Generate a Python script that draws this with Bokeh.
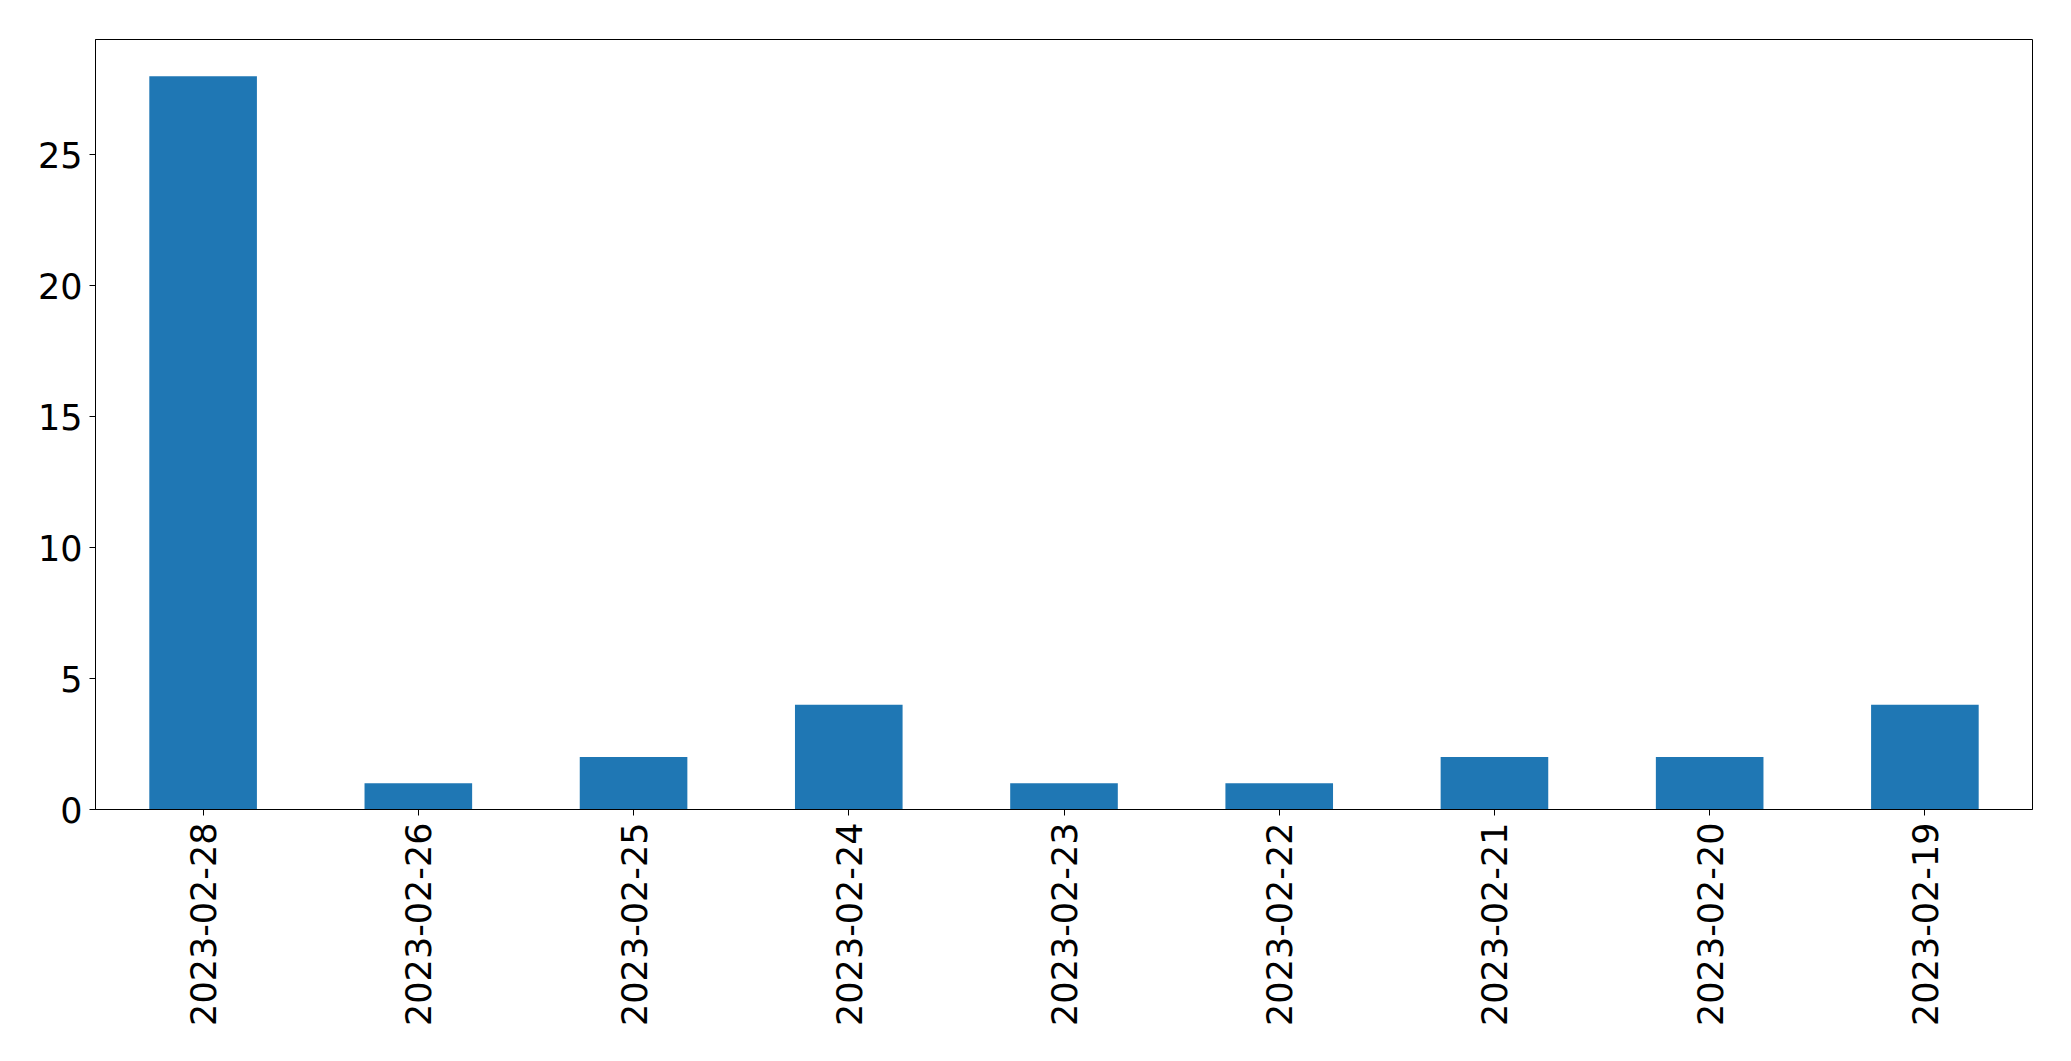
import math
from bokeh.plotting import figure
from bokeh.models import FixedTicker, Range1d, FactorRange, ColumnDataSource
from bokeh.embed import file_html
from bokeh.resources import INLINE

dates = ["2023-02-28", "2023-02-26", "2023-02-25", "2023-02-24", "2023-02-23",
         "2023-02-22", "2023-02-21", "2023-02-20", "2023-02-19"]
counts = [28, 1, 2, 4, 1, 1, 2, 2, 4]
y_ticks = [0, 5, 10, 15, 20, 25]

src = ColumnDataSource(dict(x=dates, top=counts))

p = figure(width=2055, height=1045, output_backend="svg", toolbar_location=None,
           x_range=FactorRange(factors=dates, range_padding=0),
           y_range=Range1d(0, 29.4),
           min_border_left=95, min_border_top=39, min_border_right=23, min_border_bottom=236)

p.vbar(x="x", top="top", bottom=0, width=0.5, source=src, color="#1f77b4", line_color=None)

p.xgrid.visible = False
p.ygrid.visible = False
p.outline_line_color = "black"
p.outline_line_width = 1
p.outline_line_alpha = 1

for ax in (p.xaxis[0], p.yaxis[0]):
    ax.major_label_text_font = "DejaVu Sans"
    ax.major_label_text_font_size = "35px"
    ax.major_label_text_color = "black"
    ax.axis_line_color = "black"
    ax.major_tick_line_color = "black"
    ax.major_tick_out = 6
    ax.major_tick_in = 0
    ax.minor_tick_line_color = None

p.yaxis[0].ticker = FixedTicker(ticks=y_ticks)
p.yaxis[0].major_label_standoff = 7
p.xaxis[0].major_label_orientation = math.pi / 2
p.xaxis[0].major_label_standoff = 7

open("out.html", "w").write(file_html(p, INLINE))
